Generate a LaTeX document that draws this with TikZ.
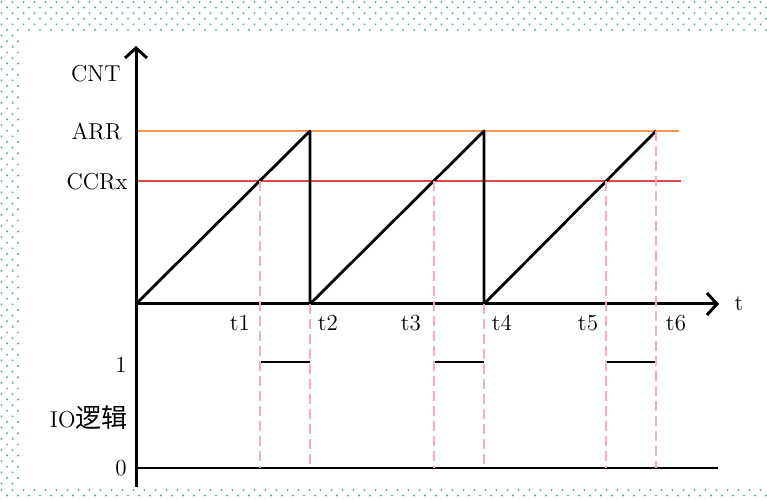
\documentclass[tikz,border=0pt]{standalone}
\usepackage{fontspec}
\newfontfamily\cjkfont{Noto Sans CJK SC}
\usetikzlibrary{arrows.meta,positioning,calc}
\usepackage{xcolor}
\definecolor{arrorange}{RGB}{242,152,72}
\definecolor{ccrred}{RGB}{222,72,72}
\definecolor{markpink}{RGB}{248,172,196}
\definecolor{dotteal}{RGB}{96,170,170}
\tikzset{
  axis/.style={line width=1.5pt,-{Straight Barb[length=5pt,width=11pt,line width=1.5pt]}},
  ramp/.style={line width=1.4pt,line join=round},
  level/.style={line width=1.4pt},
  guide/.style={line width=1pt,markpink,dash pattern=on 5pt off 2.5pt},
  lbl/.style={font=\fontsize{11.5}{13}\selectfont,inner sep=0pt},
}

\begin{document}
\begin{tikzpicture}[x=0.5pt,y=-0.5pt]
\useasboundingbox (0,0) rectangle (767,501);
% dotted slide border
\foreach \j in {0,...,5}
  \foreach \i in {0,...,69}
    \fill[dotteal] ({\i*11+mod(\j,2)*5.5+1.5},{2+\j*5.6}) circle (0.55pt);
\foreach \j in {6,...,86}
  \foreach \i in {0,1}
    \fill[dotteal] ({\i*11+mod(\j,2)*5.5+1.5},{2+\j*5.6}) circle (0.55pt);
\foreach \j in {0,1}
  \foreach \i in {0,...,69}
    \fill[dotteal] ({\i*11+mod(\j,2)*5.5+1.5},{490+\j*5.6}) circle (0.55pt);

% axes and reference points
\coordinate (O) at (136,304);
\coordinate (ytop) at (136,46);
\coordinate (ybot) at (136,487);
\coordinate (xend) at (719,304);
\coordinate (z0) at (136,468);
\coordinate (zend) at (718,468);
\coordinate (hi) at (136,362);
\coordinate (arr) at (136,131);
\coordinate (arrend) at (679,131);
\coordinate (ccr) at (136,181);
\coordinate (ccrend) at (681,181);

% counter ramps
\coordinate (r1) at (310,131);
\coordinate (b1) at (310,304);
\coordinate (r2) at (484,131);
\coordinate (b2) at (484,304);
\coordinate (r3) at (656,131);
\coordinate (c1) at ($(O)!0.711!(r1)$);
\coordinate (c2) at ($(b1)!0.711!(r2)$);
\coordinate (c3) at ($(b2)!0.711!(r3)$);

\draw[level,arrorange] (arr) -- (arrend);
\draw[level,ccrred] (ccr) -- (ccrend);
\draw[ramp] (O) -- (r1) -- (b1) -- (r2) -- (b2) -- (r3);

\draw[axis] (ybot) -- (ytop);
\draw[axis] (O) -- (xend);
\draw[level] (z0) -- (zend);

% IO output high
\draw[level] (c1 |- hi) -- (r1 |- hi);
\draw[level] (c2 |- hi) -- (r2 |- hi);
\draw[level] (c3 |- hi) -- (r3 |- hi);

% compare / reload marks
\foreach \p in {c1,b1,c2,b2,c3,r3}
  \draw[guide] (\p) -- (\p |- z0);

% labels
\node[lbl,anchor=east] (cntlbl) at (121,74) {CNT};
\node[lbl,anchor=east] (arrlbl) at (122,132) {ARR};
\node[lbl,anchor=east] (ccrlbl) at (128,182) {CCRx};
\node[lbl] (tlbl) at (739,304) {t};
\node[lbl] (t1lbl) at (240,323) {t1};
\node[lbl] (t2lbl) at (328,323) {t2};
\node[lbl] (t3lbl) at (411,323) {t3};
\node[lbl] (t4lbl) at (502,323) {t4};
\node[lbl] (t5lbl) at (588,323) {t5};
\node[lbl] (t6lbl) at (676,323) {t6};
\node[lbl,anchor=east] (onelbl) at (127,365) {1};
\node[lbl,anchor=east] (iolbl) at (128,418) {IO{\cjkfont\fontsize{13}{14}\selectfont 逻辑}};
\node[lbl,anchor=east] (zerolbl) at (127,468) {0};
\end{tikzpicture}
\end{document}
